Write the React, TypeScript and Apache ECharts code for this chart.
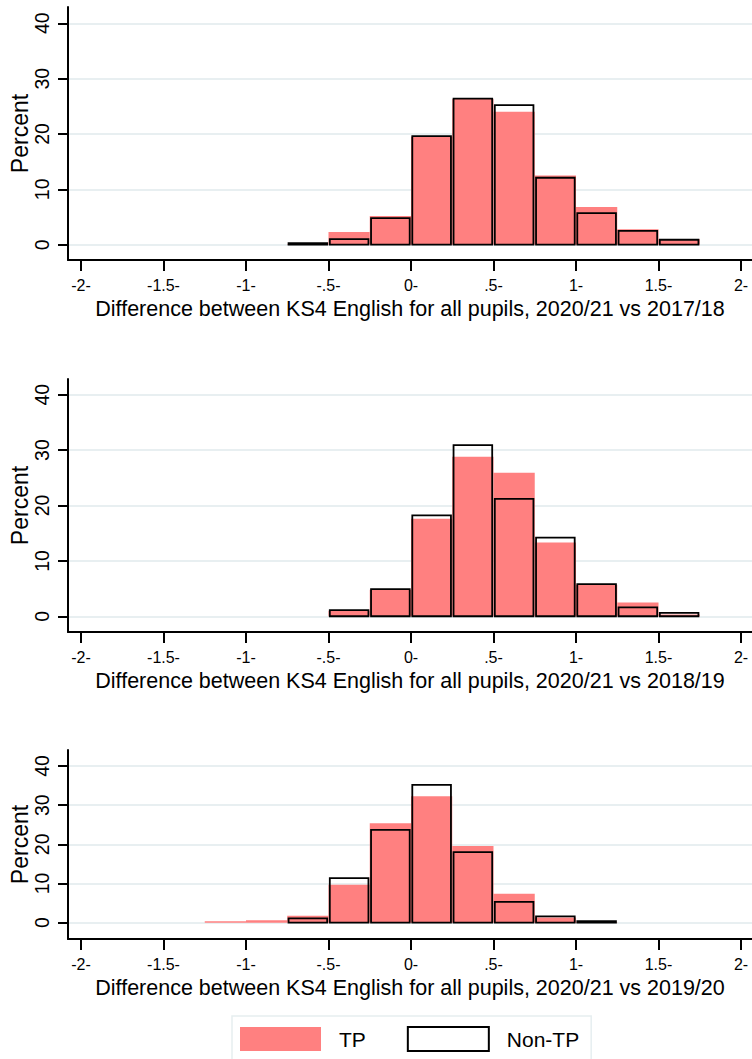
import React, { useEffect, useRef } from "react";
import * as echarts from "echarts";

// Histogram bins are 0.25 wide; each array lists the left edge of a bin.
const BIN_WIDTH = 0.25;

const bins1 = [-0.75, -0.5, -0.25, 0, 0.25, 0.5, 0.75, 1.0, 1.25, 1.5];
const tp1 = [0.1, 2.3, 5.2, 19.5, 26.3, 24.0, 12.5, 6.8, 2.8, 1.0];
const nonTp1 = [0.3, 1.0, 4.8, 19.6, 26.4, 25.2, 12.1, 5.7, 2.5, 0.9];

const bins2 = [-0.5, -0.25, 0, 0.25, 0.5, 0.75, 1.0, 1.25, 1.5];
const tp2 = [1.0, 4.8, 17.6, 28.8, 25.9, 13.3, 5.7, 2.5, 0.3];
const nonTp2 = [1.1, 4.9, 18.2, 30.9, 21.2, 14.2, 5.8, 1.6, 0.6];

const bins3 = [-1.25, -1.0, -0.75, -0.5, -0.25, 0, 0.25, 0.5, 0.75, 1.0];
const tp3 = [0.4, 0.6, 1.8, 9.7, 25.4, 32.3, 19.6, 7.4, 1.3, 0.1];
const nonTp3 = [null, null, 1.1, 11.4, 23.7, 35.2, 18.0, 5.3, 1.6, 0.4];

const xTickValues = [-2, -1.5, -1, -0.5, 0, 0.5, 1, 1.5, 2];
const xTickLabels = ["-2-", "-1.5-", "-1-", "-.5-", "0-", ".5-", "1-", "1.5-", "2-"];
const yTickValues = [0, 10, 20, 30, 40];
const yTickLabels = ["0", "10", "20", "30", "40"];

const xTitles = [
  "Difference between KS4 English for all pupils, 2020/21 vs 2017/18",
  "Difference between KS4 English for all pupils, 2020/21 vs 2018/19",
  "Difference between KS4 English for all pupils, 2020/21 vs 2019/20",
];

const seriesNames = ["TP", "Non-TP"];

const FONT = "'Liberation Sans', Arial, Helvetica, sans-serif";
const TP_COLOR = "#ff8080";
const GRID_COLOR = "#e8eff1";

// Panel geometry (pixels) and the y range each panel covers.
const panels = [
  { bins: bins1, tp: tp1, nonTp: nonTp1, top: 7, height: 253, yMin: -2.76, yMax: 42.94 },
  { bins: bins2, tp: tp2, nonTp: nonTp2, top: 379, height: 253, yMin: -2.84, yMax: 42.84 },
  { bins: bins3, tp: tp3, nonTp: nonTp3, top: 750, height: 189, yMin: -4.16, yMax: 44.08 },
];

const X_MIN = -2.0788;
const X_MAX = 2.0667;

function toData(bins: number[], values: (number | null)[]) {
  const out: number[][] = [];
  bins.forEach((b, i) => {
    const v = values[i];
    if (v !== null && v !== undefined) out.push([b, b + BIN_WIDTH, v]);
  });
  return out;
}

function filledBar(_params: any, api: any) {
  const a = api.coord([api.value(0), api.value(2)]);
  const b = api.coord([api.value(1), 0]);
  return {
    type: "rect",
    shape: { x: a[0], y: a[1], width: b[0] - a[0], height: b[1] - a[1] },
    style: { fill: TP_COLOR },
  };
}

function outlineBar(_params: any, api: any) {
  const a = api.coord([api.value(0), api.value(2)]);
  const b = api.coord([api.value(1), 0]);
  const inset = 1.3;
  return {
    type: "rect",
    shape: {
      x: a[0] + inset,
      y: a[1],
      width: b[0] - a[0] - inset * 2,
      height: Math.max(b[1] - a[1], 0.5),
    },
    style: { fill: "none", stroke: "#000", lineWidth: 1.8 },
  };
}

export default function App() {
  const ref = useRef<HTMLDivElement>(null);

  useEffect(() => {
    if (!ref.current) return;
    const chart = echarts.init(ref.current, null, { renderer: "svg" });

    const grid = panels.map((p) => ({
      left: 68,
      right: 0,
      top: p.top,
      height: p.height,
      containLabel: false,
      outerBoundsMode: "none",
    }));

    const xAxis = panels.map((_p, i) => ({
      type: "value",
      gridIndex: i,
      min: X_MIN,
      max: X_MAX,
      axisLine: { show: true, onZero: false, lineStyle: { color: "#000", width: 2 } },
      axisTick: {
        show: true,
        length: 11,
        customValues: xTickValues,
        lineStyle: { color: "#000", width: 2 },
      },
      axisLabel: {
        customValues: xTickValues,
        formatter: (v: number) => {
          const idx = xTickValues.findIndex((t) => Math.abs(t - v) < 1e-6);
          return idx >= 0 ? xTickLabels[idx] : "";
        },
        fontSize: 16,
        color: "#000",
        fontFamily: FONT,
        margin: 17,
      },
      splitLine: { show: false },
      name: xTitles[i],
      nameLocation: "middle",
      nameGap: 38,
      nameMoveOverlap: false,
      nameTextStyle: { fontSize: 21.5, color: "#000", fontFamily: FONT },
    }));

    const yAxis = panels.map((p, i) => ({
      type: "value",
      gridIndex: i,
      min: p.yMin,
      max: p.yMax,
      axisLine: { show: true, onZero: false, lineStyle: { color: "#000", width: 2 } },
      axisTick: {
        show: true,
        length: 10,
        customValues: yTickValues,
        lineStyle: { color: "#000", width: 2 },
      },
      axisLabel: {
        customValues: yTickValues,
        formatter: (v: number) => {
          const idx = yTickValues.findIndex((t) => Math.abs(t - v) < 1e-6);
          return idx >= 0 ? yTickLabels[idx] : "";
        },
        rotate: 90,
        fontSize: 19.5,
        color: "#000",
        fontFamily: FONT,
        margin: 16,
      },
      splitLine: { show: true, lineStyle: { color: GRID_COLOR, width: 2 } },
      name: "Percent",
      nameLocation: "middle",
      nameGap: 37,
      nameMoveOverlap: false,
      nameTextStyle: { fontSize: 23, color: "#000", fontFamily: FONT },
    }));

    const series: any[] = [];
    panels.forEach((p, i) => {
      series.push({
        type: "custom",
        name: seriesNames[0],
        xAxisIndex: i,
        yAxisIndex: i,
        renderItem: filledBar,
        encode: { x: [0, 1], y: 2 },
        data: toData(p.bins, p.tp),
        itemStyle: { color: TP_COLOR },
      });
    });
    panels.forEach((p, i) => {
      series.push({
        type: "custom",
        name: seriesNames[1],
        xAxisIndex: i,
        yAxisIndex: i,
        renderItem: outlineBar,
        encode: { x: [0, 1], y: 2 },
        data: toData(p.bins, p.nonTp),
        itemStyle: { color: "#fff", borderColor: "#000", borderWidth: 2 },
      });
    });

    chart.setOption({
      animation: false,
      backgroundColor: "#fff",
      textStyle: { fontFamily: FONT },
      grid,
      xAxis,
      yAxis,
      legend: {
        left: 232,
        top: 1016,
        orient: "horizontal",
        padding: [10, 12, 10, 8],
        itemWidth: 81,
        itemHeight: 24,
        itemGap: 41,
        borderColor: "#e6eef0",
        borderWidth: 1.5,
        textStyle: { fontSize: 21, color: "#000", fontFamily: FONT, padding: [0, 0, 0, 13] },
        data: [
          { name: seriesNames[0], icon: "rect", itemStyle: { color: TP_COLOR, borderWidth: 0 } },
          {
            name: seriesNames[1],
            icon: "rect",
            itemStyle: { color: "#fff", borderColor: "#000", borderWidth: 2 },
          },
        ],
      },
      series,
    });

    return () => chart.dispose();
  }, []);

  return (
    <div
      ref={ref}
      style={{ position: "fixed", left: 0, top: 0, width: 752, height: 1059, background: "#fff" }}
    />
  );
}
